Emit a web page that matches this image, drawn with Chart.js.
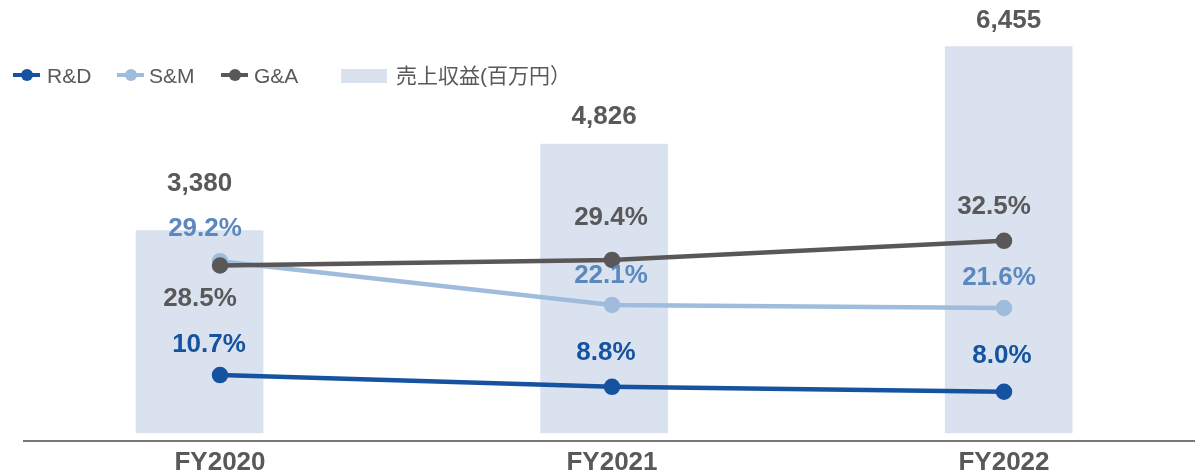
<!DOCTYPE html>
<html>
<head>
<meta charset="utf-8">
<script src="https://cdn.jsdelivr.net/npm/chart.js@4.4.1/dist/chart.umd.min.js"></script>
<style>
  html, body { margin: 0; padding: 0; background: #fff; overflow: hidden; }
  #wrap { position: relative; width: 1200px; height: 476px; }
  .lg { position: absolute; font-family: "Liberation Sans", Arial, sans-serif; font-size: 21px; color: #595959; line-height: 21px; top: 65px; }
  .lg.cjk { font-family: "Liberation Sans", "Noto Sans CJK JP", sans-serif; }
  .mk { position: absolute; top: 73px; height: 4px; width: 27px; }
  .dot { position: absolute; top: 69px; width: 12px; height: 12px; border-radius: 50%; }
</style>
</head>
<body>
<div id="wrap">
  <canvas id="chart"></canvas>
  <div id="legend"></div>
</div>
<script>
// categories and values
const years = ['FY2020', 'FY2021', 'FY2022'];
const revenue = [3380, 4826, 6455];        // 売上収益(百万円)
const rdRatio = [10.7, 8.8, 8.0];
const smRatio = [29.2, 22.1, 21.6];
const gaRatio = [28.5, 29.4, 32.5];

// colours
const cRD = '#1553a0';
const cSM = '#9fbcdc';
const cSMText = '#5b88bf';
const cGA = '#5a5758';
const cBar = '#d9e2ee';
const cText = '#595959';

// label offsets from each point (dx, dy)
const revenueLabelDy = [-47, -27, -26];
const rdLabelOff = [[-11, -30], [-6, -34], [-2, -36]];
const smLabelOff = [[-15, -32], [-1, -29], [-5, -30]];
const gaLabelOff = [[-20, 33], [-1, -42], [-10, -34]];

// html legend
const legendItems = [
  { label: 'R&D', color: cRD, x: 13, tx: 47 },
  { label: 'S&M', color: cSM, x: 117, tx: 149 },
  { label: 'G&A', color: cGA, x: 221, tx: 254 }
];
const lg = document.getElementById('legend');
legendItems.forEach(it => {
  lg.innerHTML += `<div class="mk" style="left:${it.x}px;background:${it.color}"></div>
    <div class="dot" style="left:${it.x + 8}px;background:${it.color}"></div>
    <div class="lg" style="left:${it.tx}px">${it.label}</div>`;
});
lg.innerHTML += `<div style="position:absolute;left:341px;top:69px;width:46px;height:14px;background:${cBar}"></div>
  <div class="lg cjk" style="left:396px">売上収益(百万円）</div>`;

const fmt = v => v.toLocaleString('en-US');

const labelPlugin = {
  id: 'valueLabels',
  afterDatasetsDraw(chart) {
    const ctx = chart.ctx;
    ctx.save();
    ctx.textAlign = 'center';
    ctx.textBaseline = 'middle';
    chart.data.datasets.forEach((ds, di) => {
      const meta = chart.getDatasetMeta(di);
      meta.data.forEach((el, i) => {
        if (ds.type === 'bar') {
          ctx.font = 'bold 26px "Liberation Sans", Arial, sans-serif';
          ctx.fillStyle = cText;
          ctx.fillText(fmt(revenue[i]), el.x, el.y + revenueLabelDy[i]);
        } else {
          const off = ds.labelOff[i];
          ctx.font = 'bold 26px "Liberation Sans", Arial, sans-serif';
          ctx.fillStyle = ds.labelColor;
          ctx.fillText(ds.data[i].toFixed(1) + '%', el.x + off[0], el.y + off[1]);
        }
      });
    });
    ctx.restore();
  }
};

function lineSet(label, data, color, textColor, off, order) {
  return {
    type: 'line', label, data, order,
    borderColor: color, backgroundColor: color,
    pointBackgroundColor: color, pointBorderColor: color,
    borderWidth: 4.5, pointRadius: 6, pointHoverRadius: 6,
    xAxisID: 'x', yAxisID: 'y2',
    labelColor: textColor, labelOff: off, tension: 0
  };
}

new Chart(document.getElementById('chart'), {
  data: {
    labels: years,
    datasets: [
      {
        type: 'bar', label: '売上収益(百万円)', order: 10,
        data: revenue.map((v, i) => ({ x: i, y: v })),
        backgroundColor: cBar, barThickness: 127, grouped: false,
        xAxisID: 'x2', yAxisID: 'y'
      },
      lineSet('R&D', rdRatio, cRD, cRD, rdLabelOff, 3),
      lineSet('S&M', smRatio, cSM, cSMText, smLabelOff, 2),
      lineSet('G&A', gaRatio, cGA, cText, gaLabelOff, 1)
    ]
  },
  options: {
    responsive: true,
    maintainAspectRatio: false,
    animation: false,
    layout: { autoPadding: false, padding: { left: 24, right: 0, top: 0, bottom: 0 } },
    plugins: { legend: { display: false }, tooltip: { enabled: false } },
    scales: {
      x: {
        type: 'category', offset: true,
        grid: { display: false, drawTicks: false },
        border: { display: true, color: '#777', width: 2 },
        ticks: { color: cText, padding: 6, font: { family: '"Liberation Sans", Arial, sans-serif', size: 26, weight: 'bold' } },
        afterFit: s => { s.height = 35; }
      },
      x2: { type: 'linear', display: false, offset: false, min: -0.434, max: 2.473 },
      y: { display: false, min: -134, max: 7231 },
      y2: { display: false, min: 0, max: 71.6 }
    }
  },
  plugins: [labelPlugin]
});
</script>
</body>
</html>
